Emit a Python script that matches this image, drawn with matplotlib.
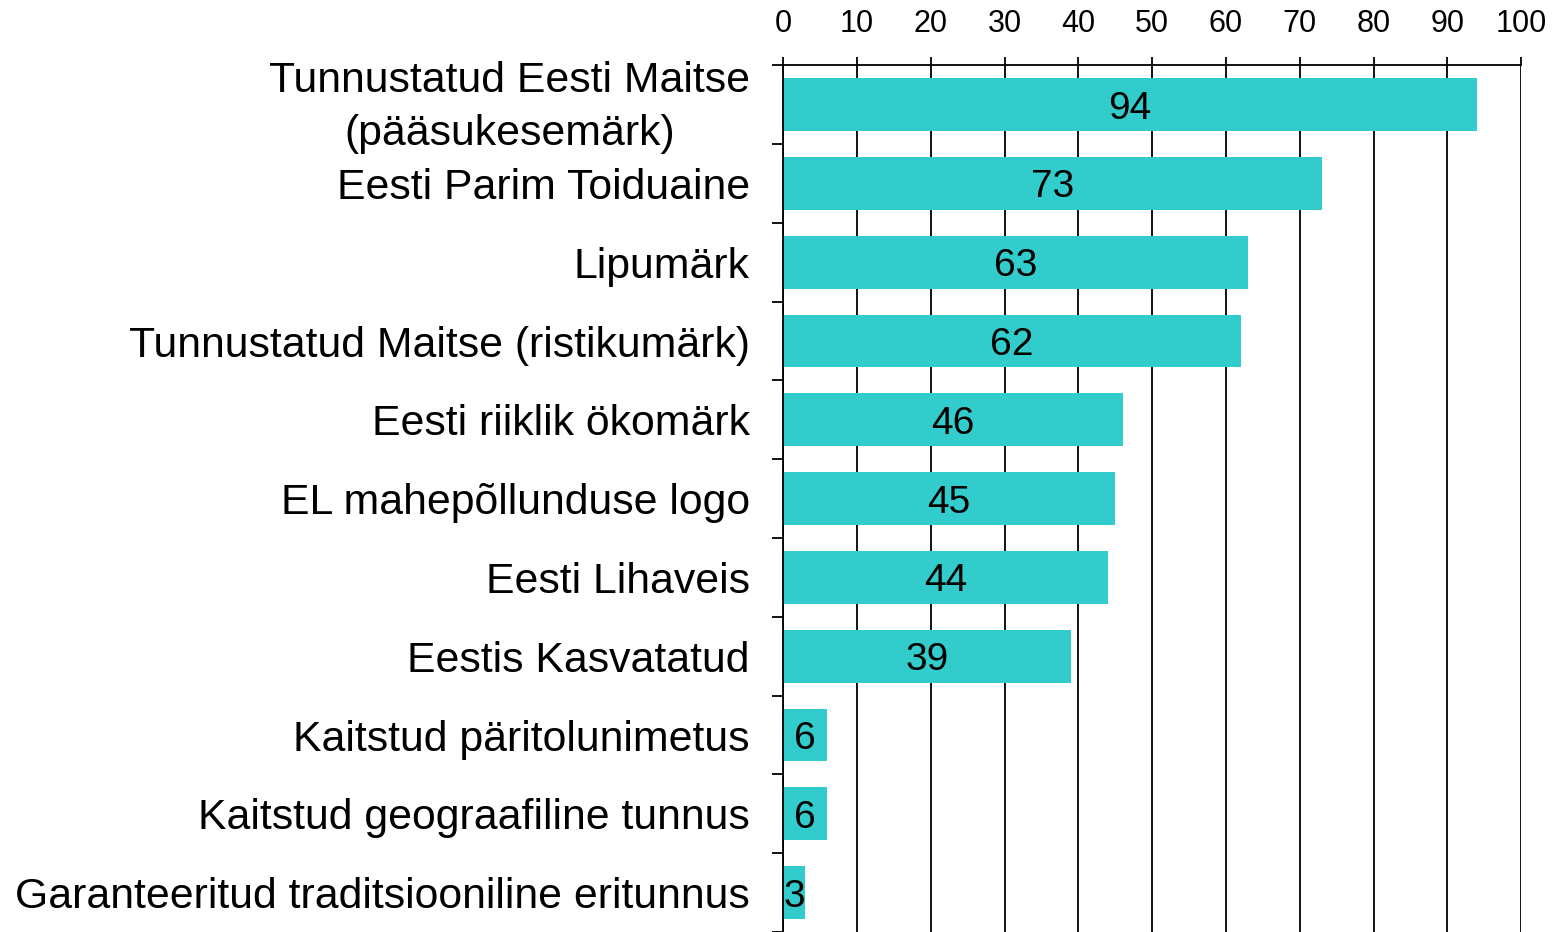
import matplotlib.pyplot as plt
import matplotlib.transforms as mtransforms
import numpy as np

plt.rcParams['font.family'] = ['Liberation Sans', 'DejaVu Sans']

# categories and shares (%)
labels = [
    "Tunnustatud Eesti Maitse\n(pääsukesemärk)",
    "Eesti Parim Toiduaine",
    "Lipumärk",
    "Tunnustatud Maitse (ristikumärk)",
    "Eesti riiklik ökomärk",
    "EL mahepõllunduse logo",
    "Eesti Lihaveis",
    "Eestis Kasvatatud",
    "Kaitstud päritolunimetus",
    "Kaitstud geograafiline tunnus",
    "Garanteeritud traditsiooniline eritunnus",
]
values = [94, 73, 63, 62, 46, 45, 44, 39, 6, 6, 3]
xticks = [0, 10, 20, 30, 40, 50, 60, 70, 80, 90, 100]

fig = plt.figure(figsize=(15.57, 9.32), dpi=100)
ax = fig.add_axes([0.503, 0.0, 0.474, 0.930])

y = np.arange(len(labels))
ax.set_axisbelow(True)
ax.xaxis.grid(True, color='black', linewidth=1.3)
bars = ax.barh(y, values, height=0.67, color='#33CCCC', zorder=2)

for b, v in zip(bars, values):
    ax.text(v / 2, b.get_y() + b.get_height() / 2, str(v),
            ha='center', va='center_baseline', fontsize=28, zorder=3)

ax.set_xlim(0, 100)
ax.set_ylim(len(labels) - 0.5, -0.5)

ax.xaxis.tick_top()
ax.set_xticks(xticks)
ax.tick_params(axis='x', labelsize=22, length=6, width=1.3, pad=13)

ax.set_yticks(y)
ax.set_yticklabels(labels)
ax.set_yticks(np.arange(-0.5, len(labels), 1), minor=True)
ax.tick_params(axis='y', which='major', length=0, labelsize=30.8, pad=24)
ax.tick_params(axis='y', which='minor', length=8, width=1.3)

# two-line label: centred lines, a bit higher like the original
first = ax.get_yticklabels()[0]
first.set_multialignment('center')
first.set_linespacing(1.42)
first.set_transform(first.get_transform() +
                    mtransforms.ScaledTranslation(0, 0.08, fig.dpi_scale_trans))

for side in ['right', 'bottom']:
    ax.spines[side].set_visible(False)
for side in ['top', 'left']:
    ax.spines[side].set_linewidth(1.3)

fig.savefig('out.png', dpi=100)
